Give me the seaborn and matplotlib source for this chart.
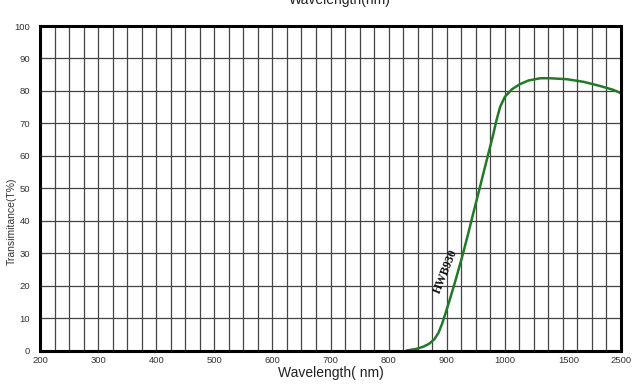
import numpy as np
import pandas as pd
import seaborn as sns
import matplotlib.pyplot as plt

# transmittance curve (nm, %)
wavelength = [831, 848, 860, 870, 879, 886, 892, 898, 905, 915, 926, 937, 946, 956, 963,
              975, 980, 985, 992, 1001, 1056, 1120, 1185, 1277, 1355, 1485, 1783, 2103,
              2356, 2500]
transmittance = [0, 0.5, 1.2, 2.1, 3.5, 5.5, 8.2, 11.5, 15.5, 21.5, 28.5, 36, 42.5, 49.5,
                 54.5, 63, 66.5, 70.5, 75.1, 78.2, 80.5, 82.1, 83.2, 83.9, 83.9, 83.6,
                 82.8, 81.5, 80.3, 79.3]

x_ticks = [200, 300, 400, 500, 600, 700, 800, 900, 1000, 1500, 2500]
y_ticks = [0, 10, 20, 30, 40, 50, 60, 70, 80, 90, 100]
curve_name = "HWB930"

# piecewise axis: 200-1000 linear, 1000-2500 squeezed into the last columns
knots_nm = [200, 1000, 1500, 2500]
knots_u = [0, 32, 36.4, 40]


def forward(x):
    return np.interp(x, knots_nm, knots_u)


def inverse(u):
    return np.interp(u, knots_u, knots_nm)


df = pd.DataFrame({"Wavelength": wavelength, "T": transmittance})

sns.set_style("white")
plt.rcParams['font.family'] = ['Liberation Sans', 'DejaVu Sans']

fig = plt.figure(figsize=(6.32, 3.85), dpi=100)
ax = fig.add_axes([40 / 632, 1 - 350.5 / 385, 581 / 632, 324.5 / 385])

sns.lineplot(data=df, x="Wavelength", y="T", ax=ax, color="#217a25", linewidth=1.8)

ax.set_xscale('function', functions=(forward, inverse))
ax.set_xlim(200, 2500)
ax.set_ylim(0, 100)

ax.set_xticks(x_ticks)
ax.set_xticklabels([str(t) for t in x_ticks])
ax.set_xticks(inverse(np.arange(1, 40)), minor=True)
ax.xaxis.remove_overlapping_locs = False
ax.set_yticks(y_ticks)

ax.xaxis.grid(False, which='major')
ax.xaxis.grid(True, which='minor', color='#444444', linewidth=0.9)
ax.yaxis.grid(True, which='major', color='#444444', linewidth=0.9)
ax.set_axisbelow(True)

ax.tick_params(axis='both', which='both', length=0, labelsize=6.8, labelcolor='#333333')
ax.tick_params(axis='x', pad=4)
ax.tick_params(axis='y', pad=7)

for s in ax.spines.values():
    s.set_visible(True)
    s.set_color('black')
    s.set_linewidth(2.2)

ax.set_xlabel('Wavelength( nm)', fontsize=10, color='#222222', labelpad=1)
ax.set_ylabel('')
fig.text(12 / 632, 1 - 221 / 385, 'Transimitance(T%)', rotation=90, fontsize=7.5,
         color='#333333', ha='center', va='center')

# title cut off at the top edge, like the scan
fig.text(340 / 632, 1.0, 'Wavelength(nm)', fontsize=10, color='#222222',
         ha='center', va='center')

ax.text(898, 24.5, curve_name, rotation=68, fontsize=8.5, fontweight='bold',
        family='Liberation Serif', ha='center', va='center', color='#111111')

fig.savefig('out.png', dpi=100)
